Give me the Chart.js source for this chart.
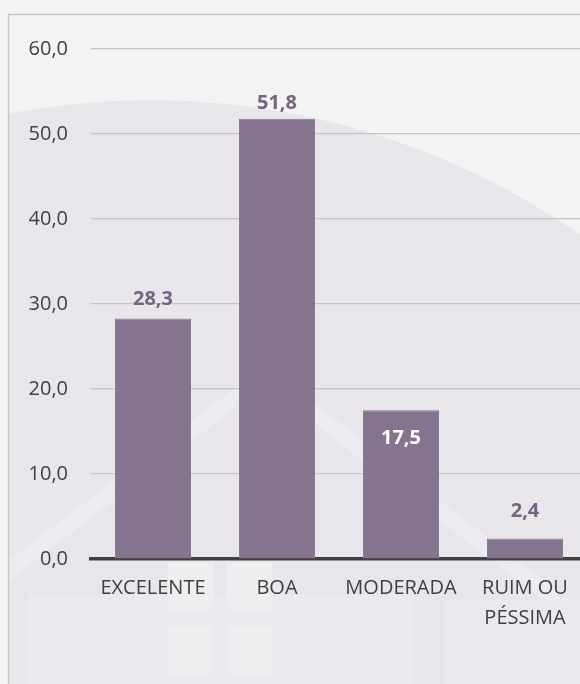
<!DOCTYPE html>
<html>
<head>
<meta charset="utf-8">
<script src="https://cdn.jsdelivr.net/npm/chart.js@4.4.1/dist/chart.umd.min.js"></script>
<style>
  html, body { margin: 0; padding: 0; background: #f3f3f3; overflow: hidden; }
  #wrap { position: absolute; left: 0; top: 0; width: 600px; height: 684px; }
</style>
</head>
<body>
<div id="wrap"><canvas id="c"></canvas></div>
<script>
const categories = ["EXCELENTE", "BOA", "MODERADA", ["RUIM OU", "PÉSSIMA"]];
const values = [28.3, 51.8, 17.5, 2.4];
const yTicks = [0, 10, 20, 30, 40, 50, 60];

const fmt = v => v.toFixed(1).replace('.', ',');
const FONT = "'Open Sans', 'DejaVu Sans', sans-serif";

const backgroundPlugin = {
  id: 'bgDeco',
  beforeDraw(chart) {
    const ctx = chart.ctx;
    const W = chart.width, H = chart.height;
    ctx.save();
    ctx.fillStyle = '#f3f3f3';
    ctx.fillRect(0, 0, W, H);
    ctx.beginPath();
    ctx.rect(9, 15, W, H);
    ctx.clip();
    // big arc watermark
    ctx.fillStyle = '#e8e6eb';
    ctx.beginPath();
    ctx.arc(150, 855, 755, 0, Math.PI * 2);
    ctx.fill();
    // faint house parts
    ctx.fillStyle = '#ecebef';
    ctx.beginPath();
    ctx.moveTo(-10, 575); ctx.lineTo(265, 365); ctx.lineTo(620, 640);
    ctx.lineTo(620, 660); ctx.lineTo(265, 385); ctx.lineTo(-10, 595);
    ctx.closePath();
    ctx.fill();
    ctx.fillStyle = '#eae9ed';
    ctx.fillRect(27, 595, 386, 100);
    ctx.fillRect(445, 600, 200, 100);
    ctx.fillStyle = '#eeedf0';
    ctx.fillRect(168, 562, 45, 48);
    ctx.fillRect(227, 562, 45, 48);
    ctx.fillRect(168, 626, 45, 48);
    ctx.fillRect(227, 626, 45, 48);
    ctx.restore();
    ctx.save();
    ctx.strokeStyle = '#c6c6c6';
    ctx.lineWidth = 1.5;
    ctx.strokeRect(8.5, 14.5, W, H);
    ctx.restore();
  }
};

const labelPlugin = {
  id: 'valueLabels',
  afterDatasetsDraw(chart, args, opts) {
    const ctx = chart.ctx;
    const meta = chart.getDatasetMeta(0);
    ctx.save();
    ctx.font = "bold 20px " + FONT;
    ctx.textAlign = 'center';
    ctx.textBaseline = 'middle';
    meta.data.forEach((bar, i) => {
      const off = opts.offsets[i];
      ctx.fillStyle = off > 0 ? '#ffffff' : '#76637f';
      ctx.fillText(fmt(values[i]), bar.x, bar.y + off);
    });
    ctx.restore();
  }
};

new Chart(document.getElementById('c'), {
  type: 'bar',
  data: {
    labels: categories,
    datasets: [{
      data: values,
      backgroundColor: '#84748f',
      borderColor: '#8a7b95',
      borderWidth: 1,
      categoryPercentage: 1,
      barPercentage: 0.613
    }]
  },
  options: {
    responsive: true,
    maintainAspectRatio: false,
    animation: false,
    layout: { padding: { top: 49, right: 13, left: 0, bottom: 0 } },
    plugins: {
      legend: { display: false },
      tooltip: { enabled: false },
      valueLabels: { offsets: [-19, -15, 28, -27] }
    },
    scales: {
      x: {
        grid: { display: false, drawTicks: false },
        border: { display: true, color: '#404040', width: 3.5 },
        ticks: {
          color: '#404040',
          font: { family: FONT, size: 20, lineHeight: 1.5 },
          padding: 14,
          maxRotation: 0
        },
        afterFit(scale) { scale.height = 125; }
      },
      y: {
        min: 0, max: 60,
        afterBuildTicks(scale) { scale.ticks = yTicks.map(v => ({ value: v })); },
        grid: { color: '#c4c4c4', lineWidth: 1.2, drawTicks: false },
        border: { display: false },
        ticks: {
          color: '#404040',
          font: { family: FONT, size: 20 },
          padding: 23,
          callback: v => fmt(v)
        },
        afterFit(scale) { scale.width = 91; }
      }
    }
  },
  plugins: [backgroundPlugin, labelPlugin]
});
</script>
</body>
</html>
